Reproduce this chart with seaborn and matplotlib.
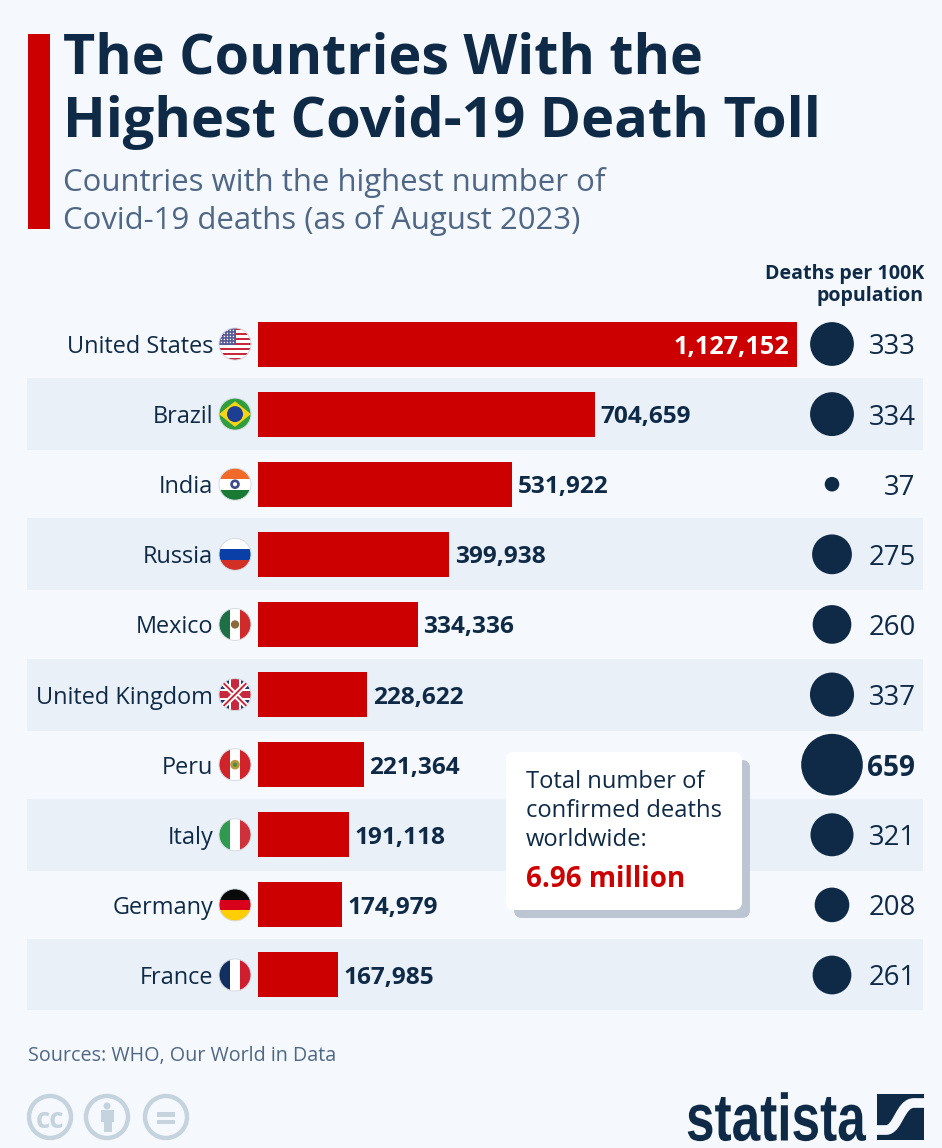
import numpy as np
import pandas as pd
import seaborn as sns
import matplotlib
matplotlib.use("Agg")
import matplotlib.pyplot as plt
from matplotlib.patches import Rectangle, Circle, FancyBboxPatch, Polygon, PathPatch
from matplotlib.path import Path
from matplotlib.patheffects import AbstractPathEffect
from matplotlib.transforms import Affine2D

countries = ["United States", "Brazil", "India", "Russia", "Mexico",
             "United Kingdom", "Peru", "Italy", "Germany", "France"]
deaths = [1127152, 704659, 531922, 399938, 334336, 228622, 221364, 191118, 174979, 167985]
per_100k = [333, 334, 37, 275, 260, 337, 659, 321, 208, 261]

BG, BAND, RED, NAVY, SLATE = "#f5f9fd", "#e9f0f8", "#cc0000", "#0f2a47", "#4f6785"
W, H = 942, 1148
sns.set_theme(style="white")
plt.rcParams["font.family"] = ["Open Sans", "DejaVu Sans"]
df = pd.DataFrame({"country": countries, "deaths": deaths, "rate": per_100k})

fig = plt.figure(figsize=(W / 100, H / 100), dpi=100, facecolor=BG)
def axes_px(x0, y0, x1, y1, **kw):
    a = fig.add_axes([x0 / W, 1 - y1 / H, (x1 - x0) / W, (y1 - y0) / H], **kw)
    a.patch.set_alpha(0)
    a.set_axis_off()
    return a

PITCH = 70.11
TOP = 344 - PITCH / 2
BOT = 975 + PITCH / 2
# row bands
back = axes_px(27, TOP, 923, BOT)
back.set_xlim(0, 1); back.set_ylim(9.5, -0.5)
for i in range(1, 10, 2):
    back.axhspan(i - 36 / PITCH, i + 36 / PITCH, color=BAND, lw=0)

# bars
ax = axes_px(258, TOP, 923, BOT)
sns.barplot(data=df, x="deaths", y="country", ax=ax, color=RED, saturation=1,
            width=45 / PITCH, orient="h", linewidth=0)
ax.set_xlim(0, max(deaths) * 665 / 539)
ax.set_ylim(9.5, -0.5)
ax.set_axis_off()
for i, v in enumerate(deaths):
    if i == 0:
        ax.annotate(f"{v:,}", (v, i), xytext=(-5.8, 0), textcoords="offset points", ha="right",
                    va="center_baseline", color="white", fontsize=18.2, fontweight="bold")
    else:
        ax.annotate(f"{v:,}", (v, i), xytext=(3.9, 0), textcoords="offset points", ha="left",
                    va="center_baseline", color=NAVY, fontsize=17.6, fontweight="bold")

# bubbles
bx = axes_px(741, TOP, 923, BOT)
df["col"] = 0
K = (2.4 * 0.72) ** 2
sns.scatterplot(data=df, x="col", y="country", size="rate", sizes=(0, 659 * K), size_norm=(0, 659),
                color=NAVY, linewidth=0, legend=False, ax=bx, clip_on=False)
bx.set_xlim(-1, 1); bx.set_ylim(9.5, -0.5)
bx.set_axis_off()

# overlay in pixel coordinates
ov = axes_px(0, 0, W, H, zorder=5)
ov.set_xlim(0, W); ov.set_ylim(H, 0)

ov.add_patch(Rectangle((28, 34), 22, 195, color=RED, lw=0))
ov.text(63, 53, "The Countries With the", fontsize=40.1, fontweight="bold", color=NAVY, va="center_baseline")
ov.text(63, 116, "Highest Covid-19 Death Toll", fontsize=40.2, fontweight="bold", color=NAVY, va="center_baseline")
ov.text(63, 179, "Countries with the highest number of", fontsize=22.4, color=SLATE, va="center_baseline")
ov.text(63, 217, "Covid-19 deaths (as of August 2023)", fontsize=22.4, color=SLATE, va="center_baseline")
ov.text(924, 272, "Deaths per 100K", fontsize=14.1, fontweight="bold", color=NAVY, ha="right", va="center_baseline")
ov.text(924, 293, "population", fontsize=14.1, fontweight="bold", color=NAVY, ha="right", va="center_baseline")

def flag(cx, cy, kind, r=16):
    clip = Circle((cx, cy), r, transform=ov.transData)
    def add(p):
        ov.add_patch(p); p.set_clip_path(clip); return p
    def rect(x0, y0, x1, y1, c):
        add(Rectangle((cx + x0 * r, cy + y0 * r), (x1 - x0) * r, (y1 - y0) * r, color=c, lw=0))
    def vstripes(cs):
        n = len(cs)
        for k, c in enumerate(cs):
            rect(-1 + 2 * k / n, -1, -1 + 2 * (k + 1) / n, 1, c)
    def hstripes(cs):
        n = len(cs)
        for k, c in enumerate(cs):
            rect(-1, -1 + 2 * k / n, 1, -1 + 2 * (k + 1) / n, c)
    if kind == "us":
        hstripes(["#c8283c" if k % 2 == 0 else "white" for k in range(13)])
        rect(-1, -1, 0.05, 0.05, "#5a5a96")
        for yy in np.linspace(-0.85, -0.1, 5):
            for xx in np.linspace(-0.85, -0.1, 5):
                add(Circle((cx + xx * r, cy + yy * r), 0.7, color="white", lw=0))
    elif kind == "br":
        rect(-1, -1, 1, 1, "#2f9e3f")
        add(Polygon([(cx - r, cy), (cx, cy - 0.8 * r), (cx + r, cy), (cx, cy + 0.8 * r)], color="#f7d417", lw=0))
        add(Circle((cx, cy), 0.5 * r, color="#1c3f94", lw=0))
    elif kind == "in":
        hstripes(["#f26a2a", "white", "#1a7a34"])
        add(Circle((cx, cy), 0.3 * r, color="#3e4a8c", lw=0))
        add(Circle((cx, cy), 0.13 * r, color="white", lw=0))
    elif kind == "ru":
        hstripes(["white", "#0b3fa8", "#d22f27"])
    elif kind == "mx":
        vstripes(["#1d6f45", "white", "#cf2b2b"])
        add(Circle((cx, cy), 0.26 * r, color="#8a6a3a", lw=0))
    elif kind == "uk":
        rect(-1, -1, 1, 1, "#24336f")
        for s in (1, -1):
            for col, lw in (("white", 4.2), ("#c8283c", 1.4)):
                ln = ov.plot([cx - r, cx + r], [cy - s * r, cy + s * r], color=col, lw=lw, solid_capstyle="butt")[0]
                ln.set_clip_path(clip)
        rect(-1, -0.36, 1, 0.36, "white"); rect(-0.36, -1, 0.36, 1, "white")
        rect(-1, -0.24, 1, 0.24, "#c8283c"); rect(-0.24, -1, 0.24, 1, "#c8283c")
    elif kind == "pe":
        vstripes(["#d2232a", "white", "#d2232a"])
        add(Circle((cx, cy), 0.3 * r, color="#b8963c", lw=0))
        add(Circle((cx, cy), 0.13 * r, color="#3f8f4a", lw=0))
    elif kind == "it":
        vstripes(["#2f9a4f", "white", "#cf3039"])
    elif kind == "de":
        hstripes(["#0a0a0a", "#d9001b", "#ffce00"])
    elif kind == "fr":
        vstripes(["#12305f", "white", "#cf1f2e"])
    ov.add_patch(Circle((cx, cy), r, fill=False, ec="#d5dbe3", lw=0.7))

kinds = ["us", "br", "in", "ru", "mx", "uk", "pe", "it", "de", "fr"]
for i, (name, kd) in enumerate(zip(countries, kinds)):
    y = 344 + i * PITCH
    ov.text(213, y, name, fontsize=16.9, color=NAVY, ha="right", va="center_baseline")
    flag(235, y, kd)
    bold = per_100k[i] == max(per_100k)
    ov.text(915.5, y, str(per_100k[i]), fontsize=19.8 if not bold else 20.2, color=NAVY, ha="right",
            va="center_baseline", fontweight="bold" if bold else "normal")

# call-out card
ov.add_patch(FancyBboxPatch((514, 760), 236, 158, boxstyle="round,pad=0,rounding_size=8", color="#bcc6d2", lw=0))
ov.add_patch(FancyBboxPatch((506, 752), 236, 158, boxstyle="round,pad=0,rounding_size=8", fc="white", ec="none"))
for y, t in zip((779, 808, 837), ("Total number of", "confirmed deaths", "worldwide:")):
    ov.text(526, y, t, fontsize=17.1, color=NAVY, va="center_baseline")
ov.text(526, 876, "6.96 million", fontsize=20, fontweight="bold", color=RED, va="center_baseline")

# footer
ov.text(28, 1053, "Sources: WHO, Our World in Data", fontsize=14.2, color=SLATE, va="center_baseline")
ICON = "#c5d3de"
for cx in (50, 107, 166):
    ov.add_patch(Circle((cx, 1117), 21, fill=False, ec=ICON, lw=3.2))
ov.text(50, 1117, "cc", fontsize=20, fontweight="bold", color=ICON, ha="center", va="center_baseline")
ov.add_patch(Circle((107, 1106), 3.5, color=ICON, lw=0))
ov.add_patch(Rectangle((101, 1110), 13, 12, color=ICON, lw=0))
ov.add_patch(Rectangle((103.5, 1122), 8, 10, color=ICON, lw=0))
ov.add_patch(Rectangle((157, 1112), 18, 4.5, color=ICON, lw=0))
ov.add_patch(Rectangle((157, 1119.5), 18, 4.5, color=ICON, lw=0))

class Stretch(AbstractPathEffect):
    """Scale a text about a fixed anchor point given in display pixels."""
    def __init__(self, x_px, y_px, sx, sy):
        super().__init__()
        self.x_px, self.y_px, self.sx, self.sy = x_px, y_px, sx, sy
    def draw_path(self, renderer, gc, tpath, affine, rgbFace=None):
        t = affine + Affine2D().translate(-self.x_px, -self.y_px).scale(self.sx, self.sy).translate(self.x_px, self.y_px)
        renderer.draw_path(gc, tpath, t, rgbFace)

# wordmark: set small, then stretched to the tall, narrow logo shape
ov.text(865, 1140.5, "statista", fontsize=16, fontweight="bold", color=NAVY,
        family=["Liberation Sans", "DejaVu Sans"], ha="right", va="baseline",
        path_effects=[Stretch(865, H - 1140.5, 2.31, 3.0)])
logo = Rectangle((877, 1094), 47, 46, color=NAVY, lw=0)
ov.add_patch(logo)
curve = Path([(877, 1130), (886, 1130), (898, 1130), (900, 1103), (914, 1103), (924, 1103)],
             [Path.MOVETO, Path.LINETO, Path.CURVE4, Path.CURVE4, Path.CURVE4, Path.LINETO])
swoosh = PathPatch(curve, fill=False, ec=BG, lw=7, capstyle="butt")
ov.add_patch(swoosh)
swoosh.set_clip_path(logo)

fig.savefig("out.png", dpi=100, facecolor=BG)
